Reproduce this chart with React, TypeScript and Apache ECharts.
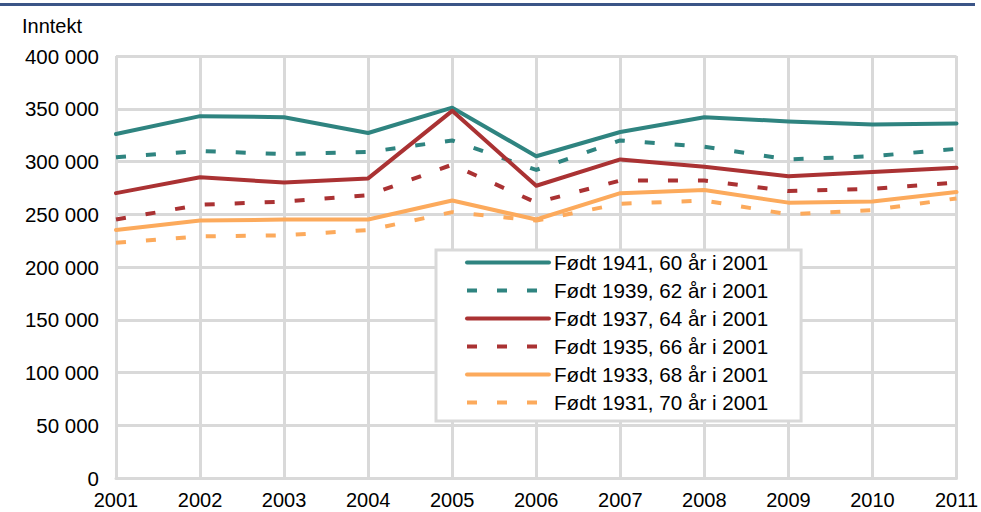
import React, { useEffect, useRef } from "react";
import * as echarts from "echarts";

const years = ["2001", "2002", "2003", "2004", "2005", "2006", "2007", "2008", "2009", "2010", "2011"];
const seriesNames = [
  "Født 1941, 60 år i 2001",
  "Født 1939, 62 år i 2001",
  "Født 1937, 64 år i 2001",
  "Født 1935, 66 år i 2001",
  "Født 1933, 68 år i 2001",
  "Født 1931, 70 år i 2001",
];
const born1941 = [326000, 343000, 342000, 327000, 351000, 305000, 328000, 342000, 338000, 335000, 336000];
const born1939 = [304000, 310000, 307000, 309000, 320000, 292000, 320000, 314000, 302000, 305000, 312000];
const born1937 = [270000, 285000, 280000, 284000, 348000, 277000, 302000, 295000, 286000, 290000, 294000];
const born1935 = [245000, 259000, 262000, 268000, 297000, 261000, 282000, 282000, 272000, 274000, 280000];
const born1933 = [235000, 244000, 245000, 245000, 263000, 245000, 270000, 273000, 261000, 262000, 271000];
const born1931 = [223000, 229000, 230000, 235000, 252000, 244000, 260000, 263000, 250000, 254000, 265000];
const yTicks = { min: 0, max: 400000, interval: 50000 };

const TEAL = "#2F8480";
const RED = "#AA3233";
const ORANGE = "#FCAA5C";
const GRID = "#D9D9D9";
const FONT = "Liberation Sans, Arial, sans-serif";

const seriesData = [born1941, born1939, born1937, born1935, born1933, born1931];
const seriesColors = [TEAL, TEAL, RED, RED, ORANGE, ORANGE];
const seriesDashed = [false, true, false, true, false, true];

function fmt(v: number): string {
  return String(v).replace(/\B(?=(\d{3})+(?!\d))/g, " ");
}

export default function App() {
  const ref = useRef<HTMLDivElement>(null);
  useEffect(() => {
    if (!ref.current) return;
    const chart = echarts.init(ref.current, undefined, { renderer: "svg" });
    chart.setOption({
      animation: false,
      backgroundColor: "#ffffff",
      textStyle: { fontFamily: FONT },
      grid: { left: 116, right: 23, top: 56, bottom: 34, containLabel: false },
      graphic: [
        {
          type: "rect",
          shape: { x: 0, y: 3, width: 975, height: 3 },
          style: { fill: "#3B5587" },
        },
        {
          type: "text",
          left: 22,
          top: 16,
          style: { text: "Inntekt", font: `20px ${FONT}`, fill: "#000" },
        },
      ],
      legend: {
        orient: "vertical",
        left: 436,
        top: 250,
        itemWidth: 82,
        itemHeight: 14,
        itemGap: 7,
        padding: [2, 33, 8, 29],
        backgroundColor: "#ffffff",
        borderColor: GRID,
        borderWidth: 3,
        borderRadius: 0,
        textStyle: { fontSize: 20.6, fontFamily: FONT, color: "#000", lineHeight: 20, height: 20 },
        itemStyle: { opacity: 0 },
        lineStyle: { width: 4 },
        data: seriesNames.map((name, i) => ({
          name,
          itemStyle: { opacity: 0 },
          lineStyle: {
            width: 4,
            color: seriesColors[i],
            type: seriesDashed[i] ? [10, 20] : "solid",
            cap: seriesDashed[i] ? "butt" : "round",
          },
        })),
        z: 10,
      },
      xAxis: {
        type: "category",
        data: years,
        boundaryGap: false,
        axisLine: { show: true, lineStyle: { color: GRID, width: 3 } },
        axisTick: { show: false },
        axisLabel: { color: "#000", fontSize: 20, fontFamily: FONT, margin: 12 },
        splitLine: { show: true, lineStyle: { color: GRID, width: 3 } },
      },
      yAxis: {
        type: "value",
        min: yTicks.min,
        max: yTicks.max,
        interval: yTicks.interval,
        axisLine: { show: false },
        axisTick: { show: false },
        axisLabel: { color: "#000", fontSize: 20.5, fontFamily: FONT, margin: 17, formatter: (v: number) => fmt(v) },
        splitLine: { show: true, lineStyle: { color: GRID, width: 3 } },
      },
      series: seriesNames.map((name, i) => ({
        name,
        type: "line",
        data: seriesData[i],
        symbol: "none",
        showSymbol: false,
        color: seriesColors[i],
        lineStyle: {
          color: seriesColors[i],
          width: 4,
          type: seriesDashed[i] ? [10, 20] : "solid",
          join: "round",
          cap: seriesDashed[i] ? "butt" : "round",
        },
      })),
    });
    return () => chart.dispose();
  }, []);
  return <div ref={ref} style={{ position: "fixed", left: 0, top: 0, width: 981, height: 512 }} />;
}
